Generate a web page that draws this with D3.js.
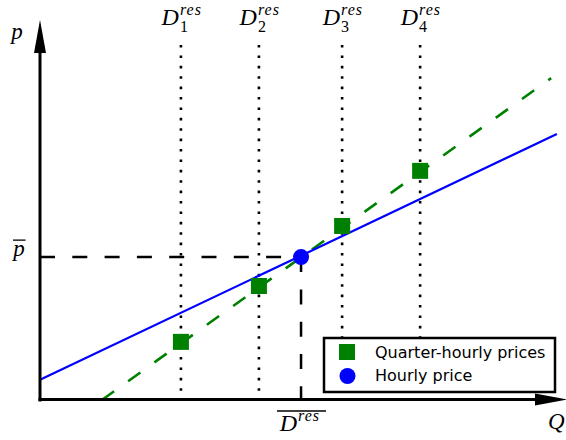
<!DOCTYPE html>
<html lang="en">
<head>
<meta charset="UTF-8">
<title>Residual demand prices</title>
<script src="https://d3js.org/d3.v7.min.js"></script>
<style>
    body { margin: 0; background: #fff; }
    .math { font-family: "Liberation Serif", serif; font-style: italic; fill: #000; }
    .legend text { font-family: "DejaVu Sans", sans-serif; font-size: 16px; fill: #000; }
</style>
</head>
<body>
<svg width="566" height="440"></svg>
<script>
    // residual demand of each quarter hour (Q) and its price (p)
    const quarterQ = [2.71, 4.21, 5.81, 7.31];
    const quarterP = [1.53, 3.0, 4.58, 6.03];
    const quarterLabels = ["1", "2", "3", "4"];

    // hourly average residual demand and the hourly price
    const hourlyQ = [5.02];
    const hourlyP = [3.76];

    // supply curves: hourly (blue) and quarter-hourly (green dashed)
    const blueQ = [0, 9.94];
    const blueP = [0.53, 7.0];
    const greenQ = [1.19, 9.83];
    const greenP = [0, 8.47];

    const legendLabels = ["Quarter-hourly prices", "Hourly price"];

    const svg = d3.select("svg");
    const x = d3.scaleLinear().domain([0, 10]).range([40, 560]);
    const y = d3.scaleLinear().domain([0, 10]).range([400, 20]);

    const line = d3.line().x(d => x(d[0])).y(d => y(d[1]));

    // dotted verticals at each quarter-hour demand
    svg.selectAll(".dot-line")
      .data(quarterQ)
      .enter().append("line")
        .attr("x1", d => x(d)).attr("x2", d => x(d))
        .attr("y1", 45).attr("y2", y(0))
        .attr("stroke", "#000")
        .attr("stroke-width", 2.6)
        .attr("stroke-dasharray", "2.6,7.8");

    // dashed guides to the hourly point
    svg.append("path")
        .attr("d", line([[0, hourlyP[0]], [hourlyQ[0], hourlyP[0]]]))
        .attr("stroke", "#000").attr("stroke-width", 2.5).attr("fill", "none")
        .attr("stroke-dasharray", "15,17.3");
    svg.append("path")
        .attr("d", line([[hourlyQ[0], hourlyP[0]], [hourlyQ[0], 0]]))
        .attr("stroke", "#000").attr("stroke-width", 2.5).attr("fill", "none")
        .attr("stroke-dasharray", "15,17.3");

    // supply curves
    svg.append("path")
        .attr("d", line(greenQ.map((q, i) => [q, greenP[i]])))
        .attr("stroke", "green").attr("stroke-width", 2.6).attr("fill", "none")
        .attr("stroke-dasharray", "15,17.3");
    svg.append("path")
        .attr("d", line(blueQ.map((q, i) => [q, blueP[i]])))
        .attr("stroke", "blue").attr("stroke-width", 2.2).attr("fill", "none");

    // markers
    svg.selectAll(".sq")
      .data(quarterQ)
      .enter().append("rect")
        .attr("x", d => x(d) - 8)
        .attr("y", (d, i) => y(quarterP[i]) - 8)
        .attr("width", 16).attr("height", 16)
        .attr("fill", "green");
    svg.append("circle")
        .attr("cx", x(hourlyQ[0])).attr("cy", y(hourlyP[0]))
        .attr("r", 8).attr("fill", "blue");

    // axes with arrow heads
    const x0 = x(0), y0 = y(0);
    svg.append("line")
        .attr("x1", x0).attr("y1", y0 + 1.5).attr("x2", x0).attr("y2", 52)
        .attr("stroke", "#000").attr("stroke-width", 3);
    svg.append("path")
        .attr("d", `M${x0 - 6},53L${x0 + 6},53L${x0},20Z`)
        .attr("fill", "#000");
    svg.append("line")
        .attr("x1", x0 - 1.5).attr("y1", y0 - 0.5).attr("x2", 536).attr("y2", y0 - 0.5)
        .attr("stroke", "#000").attr("stroke-width", 3);
    svg.append("path")
        .attr("d", `M535,${y0 - 6.5}L535,${y0 + 5.5}L567,${y0 - 0.5}Z`)
        .attr("fill", "#000");

    // axis labels
    svg.append("text").attr("class", "math")
        .attr("x", 17).attr("y", 39).attr("text-anchor", "middle")
        .style("font-size", "23px").text("p");
    svg.append("text").attr("class", "math")
        .attr("x", 548).attr("y", 429)
        .style("font-size", "23px").text("Q");

    // p-bar
    const py = y(hourlyP[0]);
    svg.append("text").attr("class", "math")
        .attr("x", 19).attr("y", py - 1).attr("text-anchor", "middle")
        .style("font-size", "23px").text("p");
    svg.append("line")
        .attr("x1", 13).attr("x2", 25.5)
        .attr("y1", py - 17).attr("y2", py - 17)
        .attr("stroke", "#000").attr("stroke-width", 1.3);

    // top labels D_i^res
    const dLabels = svg.selectAll(".dlab")
      .data(quarterQ)
      .enter().append("g")
        .attr("transform", d => `translate(${x(d)},0)`);
    dLabels.append("text").attr("class", "math")
        .attr("x", -2).attr("y", 25).attr("text-anchor", "end")
        .style("font-size", "24px").text("D");
    dLabels.append("text").attr("class", "math")
        .attr("x", -1).attr("y", 15)
        .style("font-size", "16px").style("letter-spacing", "1px").text("res");
    dLabels.append("text")
        .attr("x", -1).attr("y", 32)
        .style("font-family", "Liberation Serif, serif").style("font-size", "16px")
        .text((d, i) => quarterLabels[i]);

    // bottom label: overline D^res
    const hx = x(hourlyQ[0]);
    svg.append("text").attr("class", "math")
        .attr("x", hx - 4).attr("y", 431).attr("text-anchor", "end")
        .style("font-size", "24px").text("D");
    svg.append("text").attr("class", "math")
        .attr("x", hx - 3).attr("y", 421)
        .style("font-size", "16px").style("letter-spacing", "1px").text("res");
    svg.append("line")
        .attr("x1", hx - 24).attr("x2", hx + 25).attr("y1", 411).attr("y2", 411)
        .attr("stroke", "#000").attr("stroke-width", 1.3);

    // legend
    const legend = svg.append("g").attr("class", "legend");
    legend.append("rect")
        .attr("x", 324).attr("y", 338).attr("width", 231).attr("height", 54)
        .attr("fill", "#fff").attr("stroke", "#000").attr("stroke-width", 2.5);
    legend.append("rect")
        .attr("x", 339).attr("y", 344).attr("width", 16).attr("height", 16)
        .attr("fill", "green");
    legend.append("circle")
        .attr("cx", 347.5).attr("cy", 376).attr("r", 8).attr("fill", "blue");
    legend.selectAll(".lt")
      .data(legendLabels)
      .enter().append("text")
        .attr("x", 375)
        .attr("y", (d, i) => 357.5 + i * 23)
        .text(d => d);
</script>
</body>
</html>
